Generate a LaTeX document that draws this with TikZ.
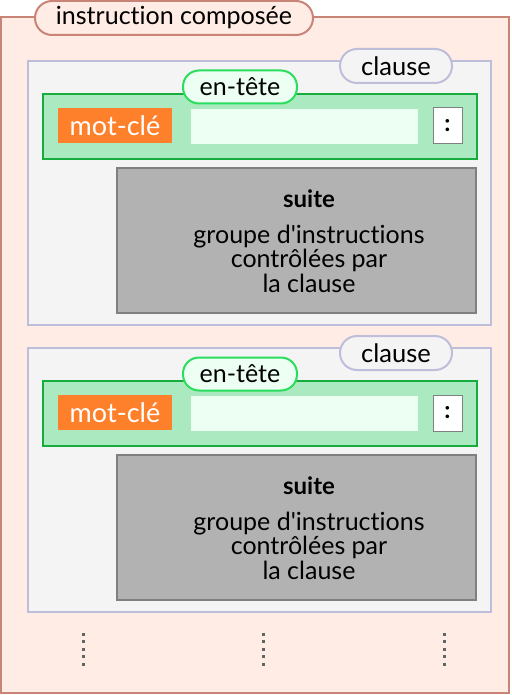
\documentclass[tikz,border=0pt]{standalone}
\usepackage{fontspec}
\setmainfont{Lato}[Ligatures=NoCommon]
\definecolor{outerfill}{RGB}{255,236,228}
\definecolor{outerline}{RGB}{200,132,118}
\definecolor{clausefill}{RGB}{244,244,244}
\definecolor{clauseline}{RGB}{190,190,218}
\definecolor{headfill}{RGB}{171,233,192}
\definecolor{headline}{RGB}{22,172,62}
\definecolor{headpillline}{RGB}{40,222,92}
\definecolor{lightgreen}{RGB}{236,255,242}
\definecolor{keyfill}{RGB}{255,128,42}
\definecolor{suitefill}{RGB}{178,178,178}
\definecolor{suiteline}{RGB}{128,128,128}
\definecolor{dotgray}{RGB}{100,100,100}
\begin{document}
\begin{tikzpicture}[x=1pt,y=-1pt,
  box/.style={draw, rectangle, inner sep=0pt},
  outerbox/.style={box, draw=outerline, fill=outerfill, line width=2pt},
  titlepill/.style={box, draw=outerline, fill=outerfill, line width=2pt, rounded corners=17pt, font=\fontsize{25}{30}\selectfont},
  clausebox/.style={box, draw=clauseline, fill=clausefill, line width=2pt},
  clausepill/.style={box, draw=clauseline, fill=clausefill, line width=2pt, rounded corners=17pt, font=\fontsize{25.5}{30}\selectfont},
  headbox/.style={box, draw=headline, fill=headfill, line width=2pt},
  headpill/.style={box, draw=headpillline, fill=lightgreen, line width=2pt, rounded corners=16pt, font=\fontsize{25}{30}\selectfont},
  keybox/.style={box, draw=none, fill=keyfill, text=white, font=\fontsize{27}{32}\selectfont},
  fieldbox/.style={box, draw=none, fill=lightgreen},
  colonbox/.style={box, draw=suiteline, fill=white, line width=1pt, font=\fontsize{24}{28}\bfseries\selectfont},
  suitebox/.style={box, draw=suiteline, fill=suitefill, line width=2pt},
  suitetitle/.style={font=\fontsize{24}{28}\bfseries\selectfont, inner sep=0pt},
  suitetext/.style={font=\fontsize{25}{24.5}\selectfont, align=center, inner sep=0pt},
  ellipsis/.style={draw=dotgray, line width=3pt, dash pattern=on 3pt off 4.4pt}
]
\useasboundingbox (0,0) rectangle (511,695);

% compound statement frame and its title
\node[outerbox, minimum width=508pt, minimum height=676pt] (outer) at (255,355) {};
\node[titlepill, minimum width=278pt, minimum height=34pt] (title) at (174,18) {instruction composée};

% the two clauses
\foreach \dy/\k in {0/1, 287/2}{
  \node[clausebox, minimum width=463pt, minimum height=264pt] (clause\k) at (259.5,193+\dy) {};
  \node[clausepill, minimum width=112pt, minimum height=34pt] (clausetag\k) at (396,66+\dy) {clause};
  \node[headbox, minimum width=434pt, minimum height=65pt] (head\k) at (260,126.5+\dy) {};
  \node[headpill, minimum width=114pt, minimum height=33pt] (headtag\k) at (240,87+\dy) {en-tête};
  \node[keybox, minimum width=114pt, minimum height=35pt] (key\k) at (115,125.5+\dy) {mot-clé};
  \node[fieldbox, minimum width=227pt, minimum height=35pt] (field\k) at (304.5,126.5+\dy) {};
  \node[colonbox, minimum width=29pt, minimum height=36pt] (colon\k) at (447.5,126+\dy) {:};
  \node[suitebox, minimum width=359pt, minimum height=145pt] (suite\k) at (296.5,240.5+\dy) {};
  \node[suitetitle] (suitename\k) at (309,199+\dy) {suite};
  \node[suitetext, anchor=north] (suitedesc\k) at (309,224.5+\dy) {groupe d\textquotesingle instructions\\contrôlées par\\la clause};
}

% more clauses may follow
\foreach \x/\k in {83/1, 263/2, 444/3}{
  \coordinate (dtop\k) at (\x,633);
  \coordinate (dbot\k) at (\x,666);
  \draw[ellipsis] (dtop\k) -- (dbot\k);
}
\end{tikzpicture}
\end{document}
